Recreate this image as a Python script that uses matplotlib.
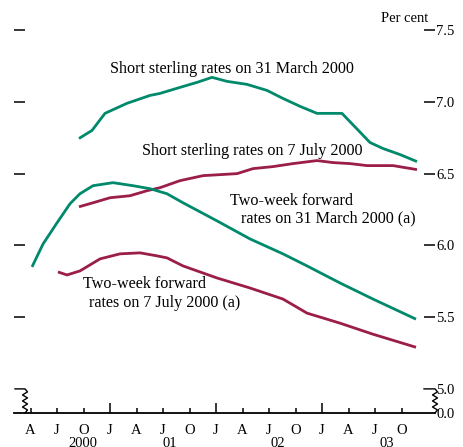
import matplotlib
matplotlib.use("Agg")
import matplotlib.pyplot as plt
import matplotlib.transforms as mtransforms
import numpy as np

# x values: months since 1 January 2000
ss_mar_x = [8.49, 9.96, 11.43, 13.92, 16.53, 17.66, 19.92, 21.85, 23.55, 25.25, 27.51,
            29.77, 31.58, 33.51, 35.43, 38.26, 41.43, 42.91, 44.83, 46.75]
ss_mar_y = [6.745, 6.801, 6.920, 6.990, 7.045, 7.059, 7.101, 7.136, 7.171, 7.143, 7.122,
            7.080, 7.024, 6.969, 6.920, 6.920, 6.717, 6.675, 6.633, 6.584]

ss_jul_x = [8.49, 10.08, 12.0, 14.26, 16.19, 17.66, 19.92, 22.53, 24.45, 26.38, 28.19,
            30.45, 32.72, 35.43, 37.25, 39.17, 41.09, 44.04, 46.75]
ss_jul_y = [6.269, 6.297, 6.332, 6.346, 6.381, 6.402, 6.451, 6.486, 6.493, 6.500, 6.535,
            6.549, 6.570, 6.591, 6.577, 6.570, 6.556, 6.556, 6.528]

fw_mar_x = [3.17, 4.42, 6.0, 7.47, 8.60, 10.08, 12.34, 14.60, 16.53, 18.45, 20.26,
            24.11, 27.85, 31.58, 34.30, 38.04, 41.77, 46.64]
fw_mar_y = [5.850, 6.010, 6.157, 6.290, 6.360, 6.416, 6.437, 6.416, 6.395, 6.360, 6.297,
            6.171, 6.045, 5.941, 5.857, 5.738, 5.626, 5.486]

fw_jul_x = [6.11, 7.13, 8.60, 10.87, 13.13, 15.40, 17.32, 18.45, 20.26, 24.11, 27.85,
            31.58, 34.30, 38.04, 41.77, 46.64]
fw_jul_y = [5.815, 5.794, 5.822, 5.906, 5.941, 5.948, 5.927, 5.913, 5.857, 5.773, 5.703,
            5.626, 5.528, 5.458, 5.381, 5.290]

quarter_ticks = [3, 6, 9, 12, 15, 18, 21, 24, 27, 30, 33, 36, 39, 42, 45]
quarter_labels = ["A", "J", "O", "J", "A", "J", "O", "J", "A", "J", "O", "J", "A", "J", "O"]
year_ticks = [12, 24, 36]
year_labels = ["2000", "01", "02", "03"]
year_label_pos = [8.94, 18.79, 31.02, 43.36]

y_ticks = [4.832, 5.0, 5.5, 6.0, 6.5, 7.0, 7.5]
y_tick_labels = ["0.0", "5.0", "5.5", "6.0", "6.5", "7.0", "7.5"]

GREEN = "#00896b"
RED = "#9b1d4a"

plt.rcParams["font.family"] = ["Liberation Serif", "DejaVu Serif"]

W, H = 463, 447
fig = plt.figure(figsize=(W / 100, H / 100), dpi=100)
ax = fig.add_axes([14 / W, (H - 413) / H, (435 - 14) / W, 413 / H])
ax.set_xlim(1.132, 48.79)
ax.set_ylim(4.832, 7.710)

lw = 2.0
ax.plot(ss_mar_x, ss_mar_y, color=GREEN, lw=lw, solid_capstyle="butt")
ax.plot(ss_jul_x, ss_jul_y, color=RED, lw=lw, solid_capstyle="butt")
ax.plot(fw_mar_x, fw_mar_y, color=GREEN, lw=lw, solid_capstyle="butt")
ax.plot(fw_jul_x, fw_jul_y, color=RED, lw=lw, solid_capstyle="butt")

for s in ["top", "left", "right"]:
    ax.spines[s].set_visible(False)
ax.spines["bottom"].set_linewidth(1.3)

# x ticks: year starts are major (long), other quarters minor (short)
minor_ticks = [t for t in quarter_ticks if t not in year_ticks]
minor_labels = [l for t, l in zip(quarter_ticks, quarter_labels) if t not in year_ticks]
major_labels = [l for t, l in zip(quarter_ticks, quarter_labels) if t in year_ticks]
ax.set_xticks(year_ticks)
ax.set_xticklabels(major_labels, fontsize=10.5)
ax.set_xticks(minor_ticks, minor=True)
ax.set_xticklabels(minor_labels, minor=True, fontsize=10.5)
ax.tick_params(axis="x", which="major", direction="in", length=7.5, width=1.1, pad=8)
ax.tick_params(axis="x", which="minor", direction="in", length=3.8, width=1.1, pad=8)

# y ticks
ax.set_yticks(y_ticks)
ax.set_yticklabels(y_tick_labels, fontsize=10.5)
ax.yaxis.set_ticks_position("both")
ax.tick_params(axis="y", direction="in", length=8, width=1.1, left=True, right=True,
               labelleft=False, labelright=True, pad=1)
for t in ax.yaxis.get_major_ticks()[:2]:
    t.tick1line.set_visible(False)
    t.tick2line.set_visible(False)

# axis break markers
y5 = (5.0 - 4.832) / (7.710 - 4.832)
zz_y = np.linspace(y5, 0, 9)
amp = 2.5 / 421
def break_marker(xc, left_end):
    xs = [left_end, xc] + [xc + (amp if i % 2 else -amp) if 0 < i < 8 else xc for i in range(9)]
    ys = [y5, y5] + list(zz_y)
    ax.plot(xs, ys, color="black", lw=1.0, transform=ax.transAxes, clip_on=False)

break_marker(11 / 421, 1 / 421)
break_marker(1.0, 410 / 421)

# year labels
trans = mtransforms.blended_transform_factory(ax.transData, ax.transAxes)
for pos, lab in zip(year_label_pos, year_labels):
    ax.text(pos, -24 / 413, lab, transform=trans, ha="center", va="top", fontsize=10.5)

# annotations
fs = 11.6
ax.text(25.81, 7.227, "Short sterling rates on 31 March 2000", ha="center", va="center", fontsize=fs)
ax.text(28.13, 6.655, "Short sterling rates on 7 July 2000", ha="center", va="center", fontsize=fs)
ax.text(32.49, 6.311, "Two-week forward", ha="center", va="center", fontsize=fs)
ax.text(36.68, 6.185, "rates on 31 March 2000 (a)", ha="center", va="center", fontsize=fs)
ax.text(15.85, 5.731, "Two-week forward", ha="center", va="center", fontsize=fs)
ax.text(18.23, 5.598, "rates on 7 July 2000 (a)", ha="center", va="center", fontsize=fs)

fig.text(428 / W, 1 - 18 / H, "Per cent", ha="right", va="center", fontsize=10.5)

fig.savefig("out.png", dpi=100)
